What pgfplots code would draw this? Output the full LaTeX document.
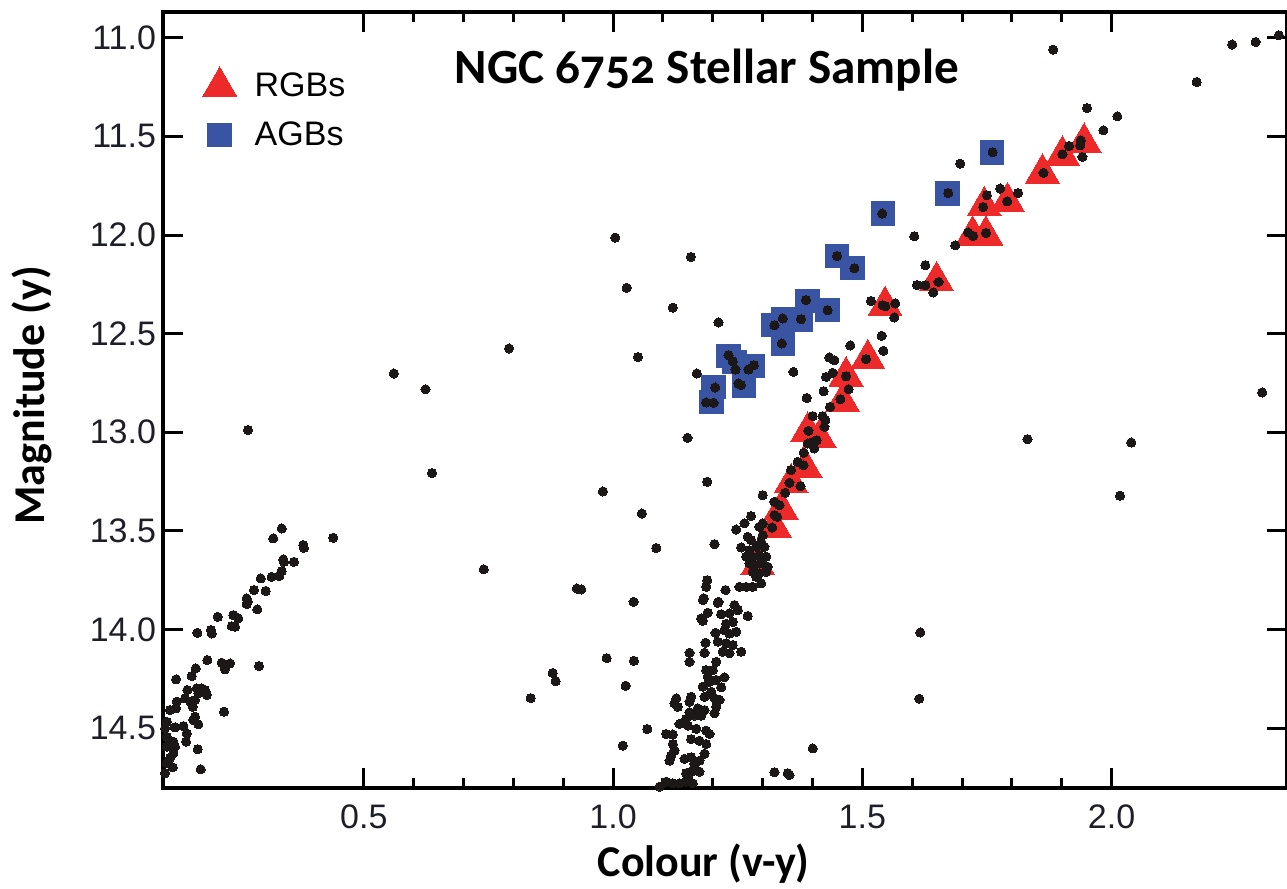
\documentclass[border=0pt]{standalone}
\usepackage{fontspec}
\setmainfont{Liberation Sans}
\newfontfamily\titlefont[Numbers=OldStyle]{Carlito}
\usepackage{pgfplots}
\pgfplotsset{compat=1.18}
\definecolor{rgbred}{RGB}{237,41,41}
\definecolor{agbblue}{RGB}{58,84,164}
\definecolor{dotc}{RGB}{28,24,24}
\definecolor{tickc}{RGB}{30,30,40}
\begin{document}
\begin{tikzpicture}
\begin{axis}[
  name=ax, at={(0,0)}, anchor=south west,
  scale only axis, width=562pt, height=388pt,
  xmin=0.097, xmax=2.352, ymin=10.869, ymax=14.804, y dir=reverse,
  axis line style={line width=2pt, black},
  xtick={0.5,1.0,1.5,2.0}, minor x tick num=4,
  ytick={11,11.5,12,12.5,13,13.5,14,14.5},
  tick style={line width=1.5pt, black},
  major tick length=10pt, minor tick length=5pt, tick align=inside,
  xticklabel style={/pgf/number format/.cd, fixed, fixed zerofill, precision=1},
  yticklabel style={/pgf/number format/.cd, fixed, fixed zerofill, precision=1},
  /pgf/number format/assume math mode=true,
  tick label style={font=\fontsize{17}{19}\selectfont, text=tickc},
  xticklabel shift=5pt,
  xlabel={Colour (v-y)},
  xlabel style={font=\titlefont\bfseries\fontsize{22}{26}\selectfont, at={(axis description cs:0.481,-0.1134)}, anchor=base},
  ylabel={Magnitude (y)},
  ylabel style={font=\titlefont\bfseries\fontsize{22}{26}\selectfont, at={(axis description cs:-0.1165,0.506)}, anchor=center},
  legend style={at={(axis description cs:0.035,0.93)}, anchor=north west, draw=none, fill=none,
    font=\fontsize{17}{20}\selectfont, row sep=7pt, inner sep=0pt,
    /tikz/every odd column/.append style={column sep=7pt}},
  legend cell align=left,
]
\addplot[only marks, color=rgbred, mark=triangle*, mark size=9.8pt, mark options={fill=rgbred, draw=rgbred, line width=0pt}] table {
x y
1.9449 11.531
1.9014 11.596
1.8613 11.687
1.7912 11.832
1.7445 11.853
1.7212 12.001
1.7479 12.001
1.6489 12.233
1.5455 12.359
1.5110 12.628
1.4673 12.716
1.4605 12.846
1.3904 12.996
1.4139 13.030
1.3858 13.182
1.3571 13.258
1.3371 13.391
1.3236 13.483
1.2902 13.674
};
\addlegendentry{RGBs}
\addplot[only marks, color=agbblue, mark=square*, mark size=5.9pt, mark options={fill=agbblue, draw=agbblue, line width=0pt}] table {
x y
1.7599 11.580
1.6703 11.790
1.5415 11.891
1.4493 12.107
1.4806 12.168
1.3898 12.334
1.4305 12.381
1.3413 12.428
1.3216 12.457
1.3764 12.427
1.3411 12.550
1.2315 12.613
1.2435 12.643
1.2802 12.665
1.2629 12.763
1.2020 12.771
1.1974 12.847
};
\addlegendentry{AGBs}
\addplot[only marks, color=dotc, mark=*, mark size=2.3pt, mark options={fill=dotc, draw=dotc, line width=0pt}, forget plot] table {
x y
0.3351 13.488
0.3182 13.538
0.4385 13.535
0.3784 13.572
0.3798 13.586
0.3383 13.645
0.3397 13.657
0.3597 13.657
0.3351 13.704
0.3303 13.729
0.3150 13.733
0.2930 13.741
0.2796 13.800
0.3030 13.805
0.2649 13.842
0.2669 13.860
0.2649 13.871
0.2862 13.898
0.2068 13.936
0.2381 13.927
0.2481 13.944
0.2349 13.983
0.2415 13.986
0.1659 14.017
0.1934 14.003
0.1948 14.020
0.1860 14.155
0.2148 14.169
0.2214 14.202
0.2315 14.172
0.2896 14.186
0.1627 14.197
0.1547 14.236
0.1232 14.253
0.1459 14.307
0.1647 14.299
0.1747 14.299
0.1814 14.307
0.1848 14.332
0.1679 14.324
0.1413 14.349
0.1513 14.366
0.1613 14.358
0.1567 14.392
0.1246 14.366
0.1232 14.400
0.1112 14.409
0.2194 14.417
0.1613 14.442
0.1579 14.459
0.1679 14.481
0.1379 14.490
0.1212 14.496
0.1046 14.468
0.1012 14.501
0.1447 14.527
0.1433 14.569
0.1046 14.544
0.1178 14.569
0.1212 14.594
0.1046 14.594
0.1178 14.628
0.1112 14.653
0.1046 14.679
0.1166 14.699
0.1012 14.729
0.1667 14.607
0.1727 14.709
0.2675 12.989
0.7912 12.575
0.5601 12.702
0.6236 12.782
0.6369 13.207
0.7405 13.695
0.9274 13.792
0.9363 13.797
0.9796 13.300
1.0411 13.860
1.0577 13.412
1.0866 13.587
1.1198 12.368
1.0497 12.619
1.0044 12.013
1.0271 12.268
1.1559 12.111
1.2114 12.443
1.1679 12.702
1.1493 13.028
1.3617 12.694
1.4760 12.560
1.0417 14.159
1.0251 14.285
1.0685 14.505
1.0196 14.589
0.9870 14.145
0.8788 14.221
0.8848 14.262
0.8347 14.348
1.8828 11.060
1.9509 11.356
2.0116 11.398
1.9836 11.469
2.1707 11.224
2.2421 11.034
2.2890 11.021
2.3357 10.987
1.6964 11.638
1.6042 12.006
1.8313 13.035
2.0397 13.052
2.0170 13.322
2.3022 12.798
1.6162 14.015
1.6142 14.351
1.4004 14.603
1.3537 14.738
1.3236 14.724
1.3503 14.729
1.7766 11.764
1.8126 11.787
1.6263 12.153
1.6096 12.254
1.6263 12.254
1.6423 12.291
1.6864 12.052
1.5174 12.334
1.5661 12.347
1.5641 12.418
1.5387 12.511
1.5421 12.587
1.4339 12.621
1.4439 12.635
1.4405 12.699
1.4273 12.719
1.4224 12.792
1.3884 12.826
1.4353 12.871
1.4725 12.782
1.9383 11.520
1.9369 11.545
1.9014 11.590
1.9148 11.548
1.9415 11.604
1.8633 11.685
1.7906 11.829
1.7425 11.858
1.7499 11.798
1.7124 11.987
1.7224 12.005
1.7479 11.989
1.6529 12.238
1.5407 12.356
1.5461 12.361
1.5074 12.629
1.4673 12.716
1.4559 12.832
1.4004 12.918
1.4204 12.918
1.4259 12.939
1.4239 12.973
1.3918 12.993
1.3904 13.057
1.4004 13.049
1.4084 13.040
1.4038 13.082
1.3824 13.104
1.3703 13.150
1.3818 13.167
1.3571 13.192
1.3537 13.256
1.3758 13.273
1.3451 13.307
1.3236 13.353
1.3337 13.370
1.3236 13.420
1.3291 13.429
1.3002 13.319
1.3190 13.483
1.3002 13.462
1.2936 13.479
1.2770 13.425
1.2635 13.462
1.2469 13.493
1.1888 13.251
1.2034 13.567
1.2701 13.530
1.2770 13.547
1.3002 13.522
1.2970 13.556
1.2569 13.584
1.2735 13.598
1.2870 13.581
1.3036 13.581
1.2669 13.631
1.2802 13.631
1.2936 13.623
1.3070 13.631
1.2735 13.665
1.2836 13.674
1.2970 13.665
1.3102 13.682
1.2802 13.708
1.2936 13.716
1.3070 13.708
1.2870 13.733
1.2970 13.766
1.2535 13.784
1.2669 13.784
1.2802 13.784
1.1888 13.750
1.1868 13.784
1.2255 13.800
1.1820 13.842
1.2114 13.860
1.1900 13.915
1.1768 13.944
1.2168 13.923
1.2335 13.918
1.2435 13.876
1.2501 13.902
1.2701 13.932
1.1800 13.851
1.2100 13.865
1.1800 13.956
1.2269 13.971
1.2401 13.962
1.2469 14.012
1.2335 14.021
1.2234 14.004
1.2054 14.017
1.1854 14.067
1.1834 14.118
1.2100 14.062
1.2269 14.070
1.2401 14.079
1.2200 14.113
1.2335 14.121
1.2569 14.113
1.1533 14.118
1.1533 14.164
1.2068 14.164
1.2000 14.206
1.1868 14.206
1.1900 14.240
1.1800 14.290
1.1934 14.265
1.2068 14.256
1.2234 14.243
1.2168 14.293
1.1968 14.316
1.1834 14.341
1.2034 14.349
1.2134 14.357
1.1267 14.349
1.1232 14.375
1.1299 14.392
1.1567 14.341
1.1533 14.366
1.1699 14.400
1.1834 14.409
1.2034 14.425
1.2068 14.392
1.1533 14.420
1.1633 14.437
1.1768 14.437
1.1467 14.454
1.1333 14.479
1.1499 14.487
1.1667 14.504
1.1868 14.513
1.1934 14.530
1.1066 14.530
1.1198 14.533
1.1567 14.556
1.1733 14.564
1.1868 14.581
1.1198 14.581
1.1166 14.640
1.1232 14.614
1.1132 14.665
1.1433 14.656
1.1567 14.648
1.1733 14.665
1.1633 14.682
1.1834 14.630
1.1467 14.729
1.1567 14.721
1.1733 14.721
1.0932 14.797
1.1066 14.772
1.1198 14.780
1.1333 14.780
1.1467 14.772
1.1599 14.780
1.1499 14.747
1.7615 11.580
1.6723 11.787
1.5401 11.891
1.4493 12.107
1.4840 12.168
1.3403 12.423
1.3236 12.457
1.3771 12.427
1.3871 12.330
1.4305 12.381
1.3383 12.550
1.2315 12.609
1.2401 12.640
1.2455 12.682
1.2715 12.682
1.2822 12.660
1.2515 12.753
1.2569 12.761
1.2048 12.773
1.1868 12.849
1.2014 12.851
};
\node[font=\titlefont\bfseries\fontsize{24.6}{28}\selectfont, anchor=base] at (axis description cs:0.484,0.9085) {NGC 6752 Stellar Sample};
\end{axis}
\pgfresetboundingbox
\path ([xshift=-81.5pt,yshift=-50pt]ax.south west) rectangle ([yshift=6pt]ax.north east);
\end{tikzpicture}
\end{document}
